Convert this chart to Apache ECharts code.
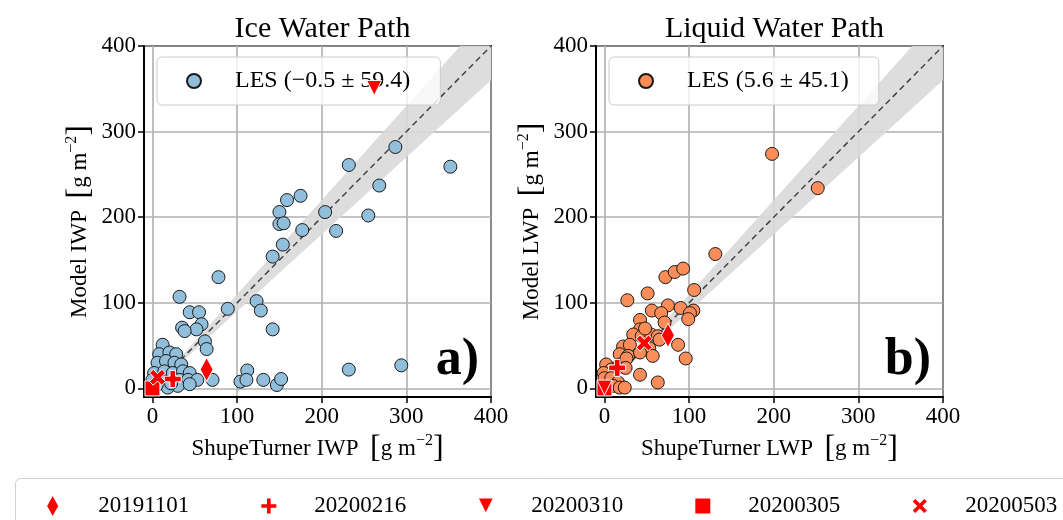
<!DOCTYPE html>
<html><head><meta charset="utf-8">
<script src="https://cdn.jsdelivr.net/npm/echarts@6/dist/echarts.min.js"></script>
<style>html,body{margin:0;padding:0;background:#fff}#c{width:1063px;height:520px}</style>
</head><body><div id="c"></div>
<script>
// ---------- data ----------
const axisTicks = [0, 100, 200, 300, 400];
const axisMin = -10, axisMax = 400;
const bandFrac = 0.1;
const panelTitles = ['Ice Water Path', 'Liquid Water Path'];
const panelLetters = ['a)', 'b)'];
const iwpLabel = 'LES (\u22120.5 \u00b1 59.4)';
const lwpLabel = 'LES (5.6 \u00b1 45.1)';

const iwpLesX = [310, 336, 352, 232, 287, 268, 159, 175, 150, 150, 155, 204, 255, 177, 217, 154, 142, 78, 32, 89, 123, 128, 44, 55, 35, 58, 52, 142, 62, 64,
  12, 8, 20, 28, 6, 16, 26, 34, 2, 14, 24, 36, 44, 0, 14, 32, 42, 53, 71, 18, 30, 44, 112, 104, 111, 131, 147, 152, 232, 294, 38, 5, 22];
const iwpLesY = [403, 403, 259, 261, 282, 237, 220, 225, 206, 192, 193, 206, 202, 185, 184, 168, 154, 130, 107, 93, 102, 91, 89, 89, 71, 75, 69, 69, 55, 46,
  51, 40, 42, 40, 30, 32, 30, 28, 18, 20, 18, 20, 18, 10, 8, 10, 10, 10, 10, 1, 3, 5, 21, 8, 10, 10, 4, 11, 22, 27, 67, 4, 6];

const lwpLesX = [198, 252, 131, 72, 83, 93, 51, 106, 27, 56, 75, 90, 105, 101, 99, 67, 42, 71, 42, 34, 44, 55, 63, 65, 87, 22, 30, 53, 18, 28, 57, 96, 42,
  2, 8, -1, 18, 0, 8, 16, 10, 18, 24, 63, 26, 25, 42, 48];
const lwpLesY = [274, 234, 157, 130, 136, 140, 111, 115, 103, 91, 97, 94, 91, 88, 81, 88, 80, 77, 69, 63, 61, 63, 61, 57, 51, 49, 51, 47, 40, 38, 38, 35, 16,
  28, 22, 18, 28, 12, 12, 7, 3, 1, 1, 7, 35, 24, 42, 70];

const caseDates = ['20191101', '20200216', '20200310', '20200305', '20200503'];
const caseIwpX = [64, 24, 262, 0, 6];
const caseIwpY = [22, 11, 351, 0, 13];
const caseLwpX = [75, 15, 0, 0, 47];
const caseLwpY = [62, 24, 1, 0, 53];

// ---------- styles ----------
const serif = '"Liberation Serif", "DejaVu Serif", serif';
const plusPath = 'path://M-1,-3H1V-1H3V1H1V3H-1V1H-3V-1H-1Z';
const xPath = 'path://M-3,-1.6L-1.6,-3L0,-1.4L1.6,-3L3,-1.6L1.4,0L3,1.6L1.6,3L0,1.4L-1.6,3L-3,1.6L-1.4,0Z';
const triPath = 'path://M-1,-1L1,-1L0,1Z';
const diamondPath = 'path://M0,-1.8L1,0L0,1.8L-1,0Z';
const squarePath = 'path://M-1,-1H1V1H-1Z';
const caseSymbols = ['diamond', plusPath, triPath, 'rect', xPath];
const caseSizes = [[13, 24], 17, 15, 15, 16];
const caseIcons = [diamondPath, plusPath, triPath, squarePath, xPath];
const caseZ = [5, 5, 7, 6, 6];

const grids = [
  { left: 144, top: 46, width: 347, height: 351, show: true, borderColor: '#000', borderWidth: 2 },
  { left: 596, top: 46, width: 347, height: 351, show: true, borderColor: '#000', borderWidth: 2 }
];

const nameRich = {
  br: { fontSize: 32, fontFamily: serif, color: '#000' },
  sup: { fontSize: 16, fontFamily: serif, color: '#000', verticalAlign: 'top' }
};
function mkAxis(gridIndex, name, isY) {
  return {
    gridIndex, type: 'value', min: axisMin, max: axisMax,
    name, nameLocation: 'middle', nameGap: isY ? 48 : 34,
    nameTextStyle: { fontFamily: serif, fontSize: 23, color: '#000', rich: nameRich },
    axisLine: { show: true, onZero: false, lineStyle: { color: '#000', width: 2 } },
    axisTick: { show: true, inside: false, length: 6, customValues: axisTicks, lineStyle: { color: '#000', width: 1.5 } },
    axisLabel: { show: true, customValues: axisTicks, fontFamily: serif, fontSize: 23, color: '#000', margin: 8 },
    splitLine: { show: true, lineStyle: { color: '#b0b0b0', width: 1.6 } }
  };
}
const xAxes = [
  mkAxis(0, 'ShupeTurner IWP  {br|[}g m{sup|\u22122}{br|]}', false),
  mkAxis(1, 'ShupeTurner LWP  {br|[}g m{sup|\u22122}{br|]}', false)
];
const yAxes = [
  mkAxis(0, 'Model IWP  {br|[}g m{sup|\u22122}{br|]}', true),
  mkAxis(1, 'Model LWP  {br|[}g m{sup|\u22122}{br|]}', true)
];

const bandPoly = [[0, 0], [axisMax / (1 + bandFrac), axisMax], [axisMax, axisMax], [axisMax, axisMax * (1 - bandFrac)]];

const series = [];
[0, 1].forEach(g => {
  series.push({
    type: 'custom', xAxisIndex: g, yAxisIndex: g, silent: true, z: 1,
    data: [[0, 0]],
    renderItem: (params, api) => ({
      type: 'polygon',
      shape: { points: bandPoly.map(p => api.coord(p)) },
      style: { fill: '#d9d9d9', opacity: 0.9 }
    })
  });
  series.push({
    type: 'line', xAxisIndex: g, yAxisIndex: g, silent: true, z: 2,
    data: [[0, 0], [axisMax, axisMax]], symbol: 'none',
    lineStyle: { color: '#444', width: 1.5, type: [6, 4] }
  });
});
series.push({
  name: iwpLabel, type: 'scatter', xAxisIndex: 0, yAxisIndex: 0, z: 3,
  data: iwpLesX.map((x, i) => [x, iwpLesY[i]]), symbol: 'circle', symbolSize: 13,
  itemStyle: { color: '#91bfdb', borderColor: '#1a1a1a', borderWidth: 1, opacity: 1 }
});
series.push({
  name: lwpLabel, type: 'scatter', xAxisIndex: 1, yAxisIndex: 1, z: 3,
  data: lwpLesX.map((x, i) => [x, lwpLesY[i]]), symbol: 'circle', symbolSize: 13,
  itemStyle: { color: '#fc8d59', borderColor: '#1a1a1a', borderWidth: 1, opacity: 1 }
});
caseDates.forEach((d, i) => {
  [[caseIwpX, caseIwpY, 0], [caseLwpX, caseLwpY, 1]].forEach(([xs, ys, g]) => {
    series.push({
      name: d, type: 'scatter', xAxisIndex: g, yAxisIndex: g, z: caseZ[i],
      data: [[xs[i], ys[i]]], symbol: caseSymbols[i], symbolSize: caseSizes[i],
      itemStyle: { color: '#ff0000', borderColor: '#ffffff', borderWidth: 1, opacity: 1 }
    });
  });
});

function innerLegend(label, left) {
  return {
    data: [{ name: label }], left, top: 57, orient: 'horizontal',
    itemWidth: 14, itemHeight: 14, padding: [12, 30, 12, 29],
    backgroundColor: 'rgba(255,255,255,0.8)', borderColor: '#cccccc', borderWidth: 1, borderRadius: 5,
    textStyle: { fontFamily: serif, fontSize: 24, color: '#000', padding: [0, 0, 0, 29] },
    selectedMode: false, z: 4
  };
}

const option = {
  animation: false,
  backgroundColor: '#fff',
  title: [
    { text: panelTitles[0], left: 317.5, textAlign: 'center', top: 9, textStyle: { fontFamily: serif, fontSize: 30, fontWeight: 'normal', color: '#000' } },
    { text: panelTitles[1], left: 769.5, textAlign: 'center', top: 9, textStyle: { fontFamily: serif, fontSize: 30, fontWeight: 'normal', color: '#000' } }
  ],
  grid: grids,
  xAxis: xAxes,
  yAxis: yAxes,
  legend: [
    innerLegend(iwpLabel, 157),
    innerLegend(lwpLabel, 609),
    {
      data: caseDates.map((d, i) => ({ name: d, icon: caseIcons[i] })),
      left: 40, top: 488, width: 1400, orient: 'horizontal',
      itemWidth: 17, itemHeight: 24, itemGap: 70, selectedMode: false,
      textStyle: { fontFamily: serif, fontSize: 23, color: '#000', padding: [0, 0, 0, 32] },
      z: 4
    }
  ],
  graphic: [
    { type: 'rect', left: 15, top: 478, z: 0, shape: { width: 1100, height: 60, r: 5 }, style: { fill: '#fff', stroke: '#d0d0d0', lineWidth: 1 } },
    { type: 'text', z: 10, style: { text: panelLetters[0], x: 479, y: 361, textAlign: 'right', textVerticalAlign: 'middle', font: 'bold 52px ' + serif, fill: '#000' } },
    { type: 'text', z: 10, style: { text: panelLetters[1], x: 931, y: 361, textAlign: 'right', textVerticalAlign: 'middle', font: 'bold 52px ' + serif, fill: '#000' } }
  ],
  series
};
const chart = echarts.init(document.getElementById('c'), null, { renderer: 'canvas' });
chart.setOption(option);
</script></body></html>
